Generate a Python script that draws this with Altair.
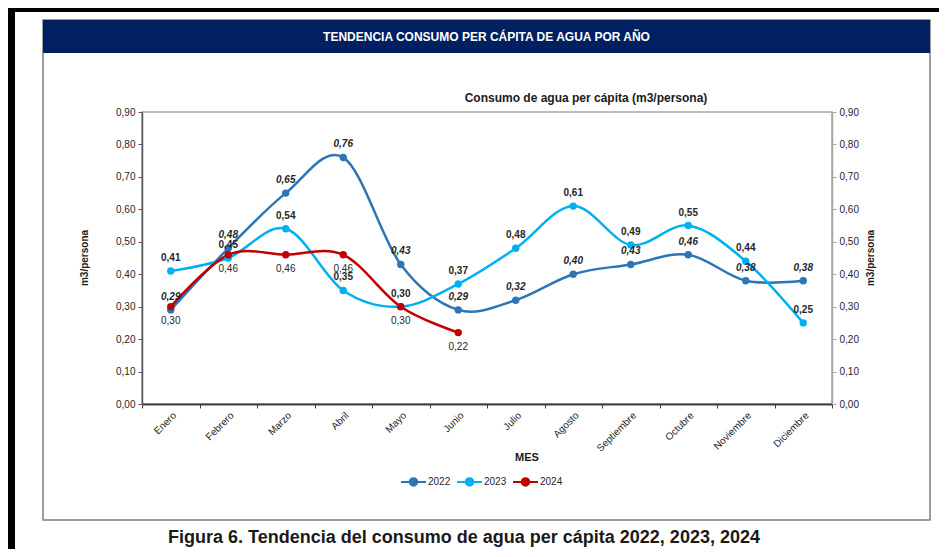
import altair as alt
import pandas as pd

# ---------------- data ----------------
meses = ["Enero", "Febrero", "Marzo", "Abril", "Mayo", "Junio", "Julio",
         "Agosto", "Septiembre", "Octubre", "Noviembre", "Diciembre"]
anios = ["2022", "2023", "2024"]
v2022 = [0.29, 0.48, 0.65, 0.76, 0.43, 0.29, 0.32, 0.40, 0.43, 0.46, 0.38, 0.38]
v2023 = [0.41, 0.45, 0.54, 0.35, 0.30, 0.37, 0.48, 0.61, 0.49, 0.55, 0.44, 0.25]
v2024 = [0.30, 0.46, 0.46, 0.46, 0.30, 0.22]
colores = ["#2E75B6", "#00B0F0", "#C00000"]
ticks_y = [0.0, 0.1, 0.2, 0.3, 0.4, 0.5, 0.6, 0.7, 0.8, 0.9]

titulo = "TENDENCIA CONSUMO PER CÁPITA DE AGUA POR AÑO"
subtitulo = "Consumo de agua per cápita (m3/persona)"
pie = "Figura 6. Tendencia del consumo de agua per cápita 2022, 2023, 2024"
eje_y = "m3/persona"
eje_x = "MES"

rows = []
for anio, vals in zip(anios, [v2022, v2023, v2024]):
    for mes, v in zip(meses, vals):
        rows.append({"Mes": mes, "Año": anio, "valor": v})
df = pd.DataFrame(rows)
df["etiqueta"] = df["valor"].map(lambda v: f"{v:.2f}".replace(".", ","))

FONT = "Liberation Sans"
W, H = 690, 292
TXT = "#262626"

# ---------------- encodings ----------------
x_enc = alt.X(
    "Mes:N", bandPosition=0.5,
    scale=alt.Scale(type="band", domain=meses, paddingInner=0, paddingOuter=0),
    axis=alt.Axis(title=None, labelAngle=315, labelAlign="right", labelBaseline="top",
                  tickBand="extent", tickSize=4, domainColor="#404040", domainWidth=2,
                  tickColor="#404040", labelFontSize=10, labelColor=TXT,
                  labelPadding=2, labelFont=FONT, zindex=1),
)
y_scale = alt.Scale(domain=[0, 0.9], nice=False, zero=True)


def y_axis(orient, col):
    return alt.Axis(orient=orient, title=None, values=ticks_y, format=".2f",
                    labelExpr="replace(datum.label, '.', ',')", tickSize=4,
                    domainColor=col, domainWidth=1.5, tickColor=col, grid=False,
                    labelFontSize=10, labelColor=TXT, labelPadding=3, labelFont=FONT,
                    zindex=1)


legend_path = ("M-1,0L1,0M-0.3,0A0.3,0.3,0,1,0,0.3,0"
               "A0.3,0.3,0,1,0,-0.3,0Z")
leg = alt.Legend(orient="none", legendX=258, legendY=356, direction="horizontal",
                 title=None, symbolType=legend_path, symbolSize=625,
                 symbolStrokeWidth=2, labelFontSize=10, labelFont=FONT,
                 labelColor=TXT, columnPadding=2, labelOffset=1)
col_scale = alt.Scale(domain=anios, range=colores)

base = alt.Chart(df)

lines = base.mark_line(interpolate="cardinal", strokeWidth=2.5).encode(
    x=x_enc,
    y=alt.Y("valor:Q", scale=y_scale, axis=y_axis("left", "#595959")),
    stroke=alt.Stroke("Año:N", scale=col_scale, legend=leg),
)
points = base.mark_point(filled=True, size=55, opacity=1).encode(
    x=x_enc,
    y=alt.Y("valor:Q", scale=y_scale, axis=y_axis("right", "#a6a6a6")),
    fill=alt.Fill("Año:N", scale=col_scale, legend=leg),
)

y_noaxis = alt.Y("valor:Q", scale=y_scale, axis=None)
lab22 = base.transform_filter(alt.datum["Año"] == "2022").mark_text(
    font=FONT, fontSize=10, fontWeight="bold", fontStyle="italic", color=TXT, dy=-13
).encode(x=x_enc, y=y_noaxis, text="etiqueta:N")
lab23 = base.transform_filter(alt.datum["Año"] == "2023").mark_text(
    font=FONT, fontSize=10, fontWeight="bold", color=TXT, dy=-13
).encode(x=x_enc, y=y_noaxis, text="etiqueta:N")
lab24 = base.transform_filter(alt.datum["Año"] == "2024").mark_text(
    font=FONT, fontSize=10, color=TXT, dy=14
).encode(x=x_enc, y=y_noaxis, text="etiqueta:N")


# ---------------- decorations (frame, titles) ----------------
def rect(x, x2, y, y2, **kw):
    return alt.Chart(pd.DataFrame({"k": [0]})).mark_rect(**kw).encode(
        x=alt.value(x), x2=alt.value(x2), y=alt.value(y), y2=alt.value(y2))


def text(t, x, y, **kw):
    return alt.Chart(pd.DataFrame({"t": [t]})).mark_text(font=FONT, **kw).encode(
        text="t:N", x=alt.value(x), y=alt.value(y))


deco = [
    rect(-134, -127, -104, 437, color="black"),
    rect(-134, 797, -104, -100, color="black"),
    rect(-99, 788, -92, 408, fill="white", fillOpacity=0, stroke="#7f7f7f",
         strokeWidth=1.5),
    rect(-99, 788, -92, -59, color="#002060"),
    text(titulo, 344.5, -75, fontSize=12, fontWeight="bold", color="white"),
    text(subtitulo, 444, -14, fontSize=12, fontWeight="bold", color="#1a1a1a"),
    text(pie, 322, 426, fontSize=18, fontWeight="bold", color="#1a1a1a"),
    text(eje_y, -57, 146, fontSize=10, fontWeight="bold", color="#1a1a1a", angle=270),
    text(eje_y, 729, 146, fontSize=10, fontWeight="bold", color="#1a1a1a", angle=270),
    text(eje_x, 385, 346, fontSize=11, fontWeight="bold", color="#1a1a1a"),
]

chart = alt.layer(
    *deco, lines, points, lab22, lab23, lab24
).resolve_axis(y="independent").properties(
    width=W, height=H,
    autosize=alt.AutoSizeParams(type="none"),
    padding={"left": 134, "top": 104, "right": 107, "bottom": 145},
    background="white",
).configure_view(stroke="#a6a6a6", strokeWidth=1.5)

chart.save("out.html", embed_options={"renderer": "svg", "actions": False})
